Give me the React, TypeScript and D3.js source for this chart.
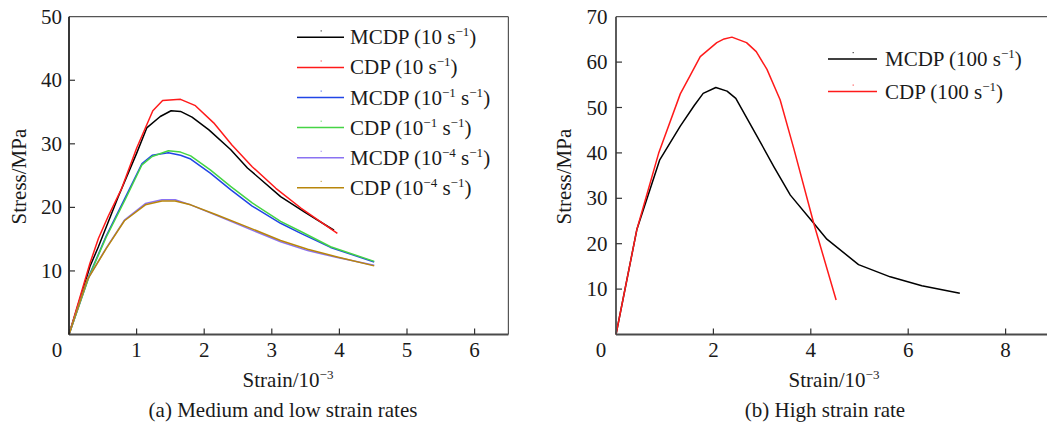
import React from "react";
import * as d3 from "d3";

// ---------- Data: panel (a) ----------
const strainMCDP10 = [0, 0.31, 0.435, 0.73, 1.0, 1.15, 1.35, 1.51, 1.65, 1.82, 2.07, 2.39, 2.64, 3.13, 3.48, 3.92];
const stressMCDP10 = [0, 10.7, 13.8, 21.7, 28.5, 32.5, 34.3, 35.2, 35.1, 34.2, 32.2, 29.1, 26.2, 21.7, 19.3, 16.4];

const strainCDP10 = [0, 0.31, 0.435, 0.58, 0.78, 1.0, 1.24, 1.385, 1.65, 1.87, 2.14, 2.41, 2.71, 3.06, 3.43, 3.97];
const stressCDP10 = [0, 11.2, 15.1, 18.6, 23.0, 29.3, 35.2, 36.8, 37.0, 36.0, 33.3, 29.8, 26.4, 23.0, 19.9, 15.9];

const strainMid = [0, 0.3, 0.55, 0.83, 1.08, 1.23, 1.47, 1.65, 1.8, 2.09, 2.39, 2.71, 3.13, 3.43, 3.87, 4.515];
const stressMCDPm1 = [0, 9.3, 15.5, 21.5, 26.9, 28.2, 28.6, 28.2, 27.6, 25.4, 22.8, 20.2, 17.5, 15.9, 13.7, 11.4];
const stressCDPm1 = [0, 9.2, 15.3, 21.2, 26.7, 28.0, 28.9, 28.7, 28.1, 25.9, 23.3, 20.7, 17.8, 16.2, 13.8, 11.5];

const strainLow = [0, 0.27, 0.55, 0.82, 1.13, 1.375, 1.57, 1.8, 2.19, 2.69, 3.13, 3.53, 3.97, 4.515];
const stressMCDPm4 = [0, 8.6, 13.6, 18.0, 20.6, 21.2, 21.2, 20.4, 18.7, 16.5, 14.6, 13.2, 12.1, 10.9];
const stressCDPm4 = [0, 8.6, 13.5, 17.9, 20.4, 21.0, 21.0, 20.4, 18.8, 16.7, 14.8, 13.4, 12.2, 10.8];

// ---------- Data: panel (b) ----------
const strainMCDP100 = [0, 0.43, 0.895, 1.32, 1.61, 1.79, 2.05, 2.28, 2.46, 2.9, 3.24, 3.58, 4.06, 4.33, 4.98, 5.63, 6.28, 7.06];
const stressMCDP100 = [0, 23.2, 38.4, 45.9, 50.5, 53.1, 54.4, 53.6, 52.0, 43.6, 37.0, 30.7, 24.5, 21.0, 15.4, 12.7, 10.75, 9.1];

const strainCDP100 = [0, 0.43, 0.875, 1.32, 1.53, 1.73, 2.07, 2.22, 2.38, 2.68, 2.88, 3.1, 3.37, 3.65, 4.06, 4.52];
const stressCDP100 = [0, 23.2, 39.9, 53.0, 57.2, 61.2, 64.3, 65.1, 65.5, 64.3, 62.3, 58.4, 51.7, 41.0, 24.5, 7.6];

// ---------- Labels / ticks ----------
const ticksAx = [1, 2, 3, 4, 5, 6];
const ticksAy = [10, 20, 30, 40, 50];
const ticksBx = [2, 4, 6, 8];
const ticksBy = [10, 20, 30, 40, 50, 60, 70];

const seriesA = [
  { name: "MCDP", rate: "10", exp: "", x: strainMCDP10, y: stressMCDP10, color: "#000000" },
  { name: "CDP", rate: "10", exp: "", x: strainCDP10, y: stressCDP10, color: "#ff1a1a" },
  { name: "MCDP", rate: "10", exp: "−1", x: strainMid, y: stressMCDPm1, color: "#2145e6" },
  { name: "CDP", rate: "10", exp: "−1", x: strainMid, y: stressCDPm1, color: "#45d445" },
  { name: "MCDP", rate: "10", exp: "−4", x: strainLow, y: stressMCDPm4, color: "#8a72f2" },
  { name: "CDP", rate: "10", exp: "−4", x: strainLow, y: stressCDPm4, color: "#b8860b" },
];
const seriesB = [
  { name: "MCDP", rate: "100", exp: "", x: strainMCDP100, y: stressMCDP100, color: "#000000" },
  { name: "CDP", rate: "100", exp: "", x: strainCDP100, y: stressCDP100, color: "#ff1a1a" },
];

const FONT = "'Liberation Serif', 'Times New Roman', serif";
const FS = 21;
const TXT = "#1a1a1a";

type Series = { name: string; rate: string; exp: string; x: number[]; y: number[]; color: string };

function LegendLabel({ s, x, y }: { s: Series; x: number; y: number }) {
  return (
    <text x={x} y={y} fontFamily={FONT} fontSize={FS} fill={TXT}>
      {s.name} ({s.rate}
      {s.exp ? (
        <tspan dy={-8} fontSize={13}>{s.exp}</tspan>
      ) : null}
      {s.exp ? <tspan dy={8}> s</tspan> : <tspan> s</tspan>}
      <tspan dy={-8} fontSize={13}>−1</tspan>
      <tspan dy={8}>)</tspan>
    </text>
  );
}

function Panel(props: {
  x0: number; x1: number; y0: number; y1: number;
  xDomain: [number, number]; yDomain: [number, number];
  xTicks: number[]; yTicks: number[];
  series: Series[];
  leftAxisColor: string; drawRight: boolean;
  zeroX: number; yLabelRight: number;
  yTitleX: number; xTitleCx: number; captionCx: number; caption: string;
  legX0: number; legX1: number; legTextX: number; legY0: number; legStep: number;
}) {
  const p = props;
  const xs = d3.scaleLinear().domain(p.xDomain).range([p.x0, p.x1]);
  const ys = d3.scaleLinear().domain(p.yDomain).range([p.y0, p.y1]);
  const line = d3.line<[number, number]>().x((d) => xs(d[0])).y((d) => ys(d[1]));
  const left = xs(p.xDomain[0]);
  const right = xs(p.xDomain[1]);
  const bottom = ys(p.yDomain[0]);
  const top = ys(p.yDomain[1]);
  return (
    <g>
      {/* frame */}
      <line x1={left} x2={right} y1={top} y2={top} stroke="#555" strokeWidth={1.2} />
      {p.drawRight && <line x1={right} x2={right} y1={top} y2={bottom} stroke="#555" strokeWidth={1.2} />}
      {/* curves */}
      {p.series.map((s, i) => (
        <path
          key={i}
          d={line(s.x.map((v, j) => [v, s.y[j]] as [number, number])) || ""}
          fill="none"
          stroke={s.color}
          strokeWidth={1.5}
          strokeLinejoin="round"
        />
      ))}
      {/* axes */}
      <line x1={left} x2={right} y1={bottom} y2={bottom} stroke="#4a4a4a" strokeWidth={2.2} />
      <line x1={left} x2={left} y1={top} y2={bottom} stroke={p.leftAxisColor} strokeWidth={1.8} />
      {p.xTicks.map((t) => (
        <g key={"xt" + t}>
          <line x1={xs(t)} x2={xs(t)} y1={bottom} y2={bottom - 6} stroke="#333" strokeWidth={1.2} />
          <text x={xs(t)} y={357} textAnchor="middle" fontFamily={FONT} fontSize={FS} fill={TXT}>{t}</text>
        </g>
      ))}
      <text x={p.zeroX} y={357} textAnchor="middle" fontFamily={FONT} fontSize={FS} fill={TXT}>0</text>
      {p.yTicks.map((t) => (
        <g key={"yt" + t}>
          {t !== p.yDomain[1] && (
            <line x1={left} x2={left + 6} y1={ys(t)} y2={ys(t)} stroke="#333" strokeWidth={1.2} />
          )}
          <text x={p.yLabelRight} y={ys(t) + 7} textAnchor="end" fontFamily={FONT} fontSize={FS} fill={TXT}>{t}</text>
        </g>
      ))}
      {/* titles */}
      <text
        transform={`translate(${p.yTitleX},${(top + bottom) / 2 + 1}) rotate(-90)`}
        textAnchor="middle" fontFamily={FONT} fontSize={FS} fill={TXT}
      >Stress/MPa</text>
      <text x={p.xTitleCx} y={387} textAnchor="middle" fontFamily={FONT} fontSize={FS} fill={TXT}>
        Strain/10<tspan dy={-8} fontSize={13}>−3</tspan>
      </text>
      <text x={p.captionCx} y={417} textAnchor="middle" fontFamily={FONT} fontSize={FS} fill={TXT}>{p.caption}</text>
      {/* legend */}
      {p.series.map((s, i) => {
        const yy = p.legY0 + i * p.legStep;
        return (
          <g key={"lg" + i}>
            <line x1={p.legX0} x2={p.legX1} y1={yy} y2={yy} stroke={s.color} strokeWidth={1.5} />
            <rect x={(p.legX0 + p.legX1) / 2} y={yy - 7} width={1.5} height={1.2} fill={s.color} opacity={0.6} />
            <LegendLabel s={s} x={p.legTextX} y={yy + 7} />
          </g>
        );
      })}
    </g>
  );
}

export default function App() {
  return (
    <svg
      width={1047}
      height={423}
      style={{ position: "absolute", left: 0, top: 0, background: "#fff" }}
    >
      <rect x={0} y={0} width={1047} height={423} fill="#fff" />
      <Panel
        x0={69} x1={508.4} y0={334.5} y1={16.7}
        xDomain={[0, 6.5]} yDomain={[0, 50]}
        xTicks={ticksAx} yTicks={ticksAy}
        series={seriesA}
        leftAxisColor="#222" drawRight={true}
        zeroX={57} yLabelRight={62}
        yTitleX={26} xTitleCx={288} captionCx={283}
        caption="(a) Medium and low strain rates"
        legX0={297} legX1={344} legTextX={350} legY0={37.3} legStep={30.1}
      />
      <Panel
        x0={616} x1={1054.3} y0={334.5} y1={16.7}
        xDomain={[0, 9]} yDomain={[0, 70]}
        xTicks={ticksBx} yTicks={ticksBy}
        series={seriesB}
        leftAxisColor="#4a4a4a" drawRight={false}
        zeroX={601} yLabelRight={607.5}
        yTitleX={571} xTitleCx={834} captionCx={825}
        caption="(b) High strain rate"
        legX0={828} legX1={877} legTextX={885} legY0={59} legStep={32.5}
      />
    </svg>
  );
}
